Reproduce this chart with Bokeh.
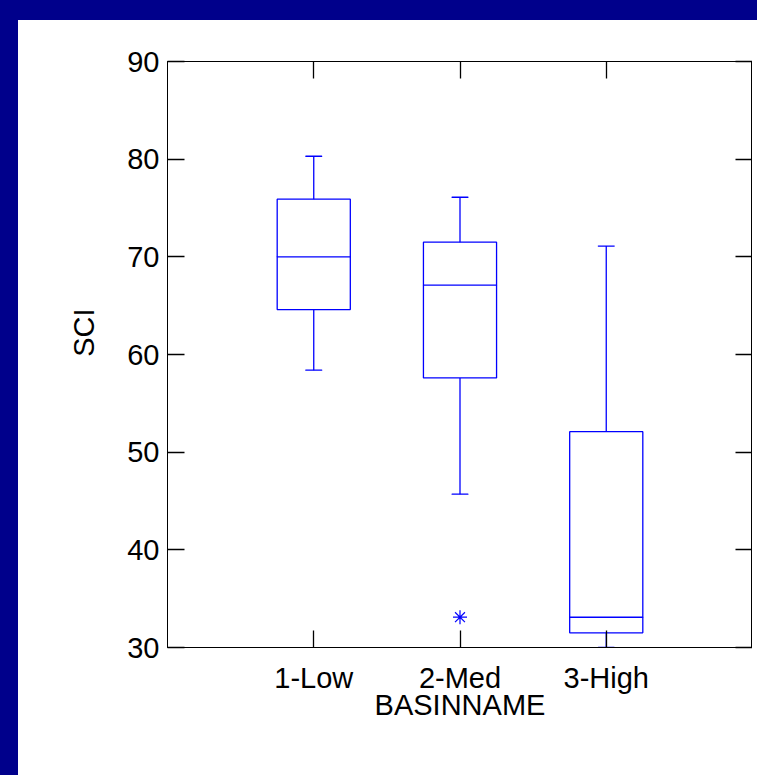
from bokeh.plotting import figure
from bokeh.models import (FixedTicker, LinearAxis, ColumnDataSource, Range1d,
                          CustomLabelingPolicy, Title)
from bokeh.embed import file_html
from bokeh.resources import INLINE

categories = ["1-Low", "2-Med", "3-High"]
positions = [1, 2, 3]
q1 = [64.6, 57.6, 31.5]
median = [70.0, 67.1, 33.1]
q3 = [75.9, 71.5, 52.1]
lower = [58.4, 45.7, 30.0]
upper = [80.3, 76.1, 71.1]
outlier_x = [2]
outlier_y = [33.1]
y_ticks = [30, 40, 50, 60, 70, 80, 90]

BLUE = "#0000FF"
FONT = "Liberation Sans"

p = figure(width=739, height=755, output_backend="svg", toolbar_location=None,
           x_range=Range1d(0, 4), y_range=Range1d(30, 90),
           frame_width=585, frame_height=586,
           min_border_left=149, min_border_top=41, min_border_right=0, min_border_bottom=128)
p.background_fill_color = "white"
p.border_fill_color = "white"
p.outline_line_color = "black"
p.outline_line_width = 1
p.grid.visible = False

src = ColumnDataSource(dict(x=positions, q1=q1, med=median, q3=q3, lo=lower, hi=upper))
box_w = 0.5
cap_w = 0.11
p.vbar(x="x", width=box_w, bottom="q1", top="q3", source=src,
       fill_color=None, line_color=BLUE, line_width=1.3)
p.segment(x0="x", x1="x", y0="q3", y1="hi", source=src, line_color=BLUE, line_width=1.3)
p.segment(x0="x", x1="x", y0="lo", y1="q1", source=src, line_color=BLUE, line_width=1.3)
p.rect(x="x", y="med", width=box_w, height=0.001, source=src, fill_color=None,
       line_color=BLUE, line_width=1.3)
p.rect(x="x", y="hi", width=cap_w, height=0.001, source=src, fill_color=None,
       line_color=BLUE, line_width=1.3)
p.rect(x="x", y="lo", width=cap_w, height=0.001, source=src, fill_color=None,
       line_color=BLUE, line_width=1.3)
p.scatter(outlier_x, outlier_y, marker="asterisk", size=14, line_color=BLUE, line_width=1.2)

def style_axis(ax, size="29px"):
    ax.major_tick_in = 17
    ax.major_tick_out = 0
    ax.minor_tick_in = 0
    ax.minor_tick_out = 0
    ax.axis_line_color = "black"
    ax.major_tick_line_color = "black"
    ax.major_tick_line_width = 1.3
    ax.major_label_text_font = FONT
    ax.major_label_text_font_size = size
    ax.major_label_text_color = "black"
    ax.axis_label_text_font = FONT
    ax.axis_label_text_font_size = "29px"
    ax.axis_label_text_font_style = "normal"
    ax.axis_label_text_color = "black"

hide_all = CustomLabelingPolicy(code="""
    for (const i of indices)
        indices.unset(i)
    return indices
""")

xa = p.xaxis[0]
xa.ticker = FixedTicker(ticks=positions)
xa.major_label_overrides = {pos: c for pos, c in zip(positions, categories)}
xa.axis_label = "BASINNAME"
xa.major_label_standoff = 14
xa.axis_label_standoff = -8
style_axis(xa, "29px")

ya = p.yaxis[0]
ya.ticker = FixedTicker(ticks=y_ticks)
ya.major_label_standoff = 8
style_axis(ya, "29px")

sci = Title(text="SCI", align="right", offset=247, standoff=50,
            text_font=FONT, text_font_size="29px", text_font_style="normal",
            text_color="black")
p.add_layout(sci, "left")

top = LinearAxis(ticker=FixedTicker(ticks=positions), major_label_policy=hide_all)
style_axis(top, "0px")
top.major_label_standoff = 0
p.add_layout(top, "above")

right = LinearAxis(ticker=FixedTicker(ticks=y_ticks), major_label_policy=hide_all)
style_axis(right, "0px")
right.major_label_standoff = 0
p.add_layout(right, "right")

html = file_html(p, INLINE)
html = html.replace("</head>",
                    "<style>html,body{background:#FFFFFF;margin:0;padding:0;overflow:hidden;}"
                    "body{border-left:18px solid #00008B;border-top:20px solid #00008B;}"
                    "</style></head>", 1)
open("out.html", "w").write(html)
